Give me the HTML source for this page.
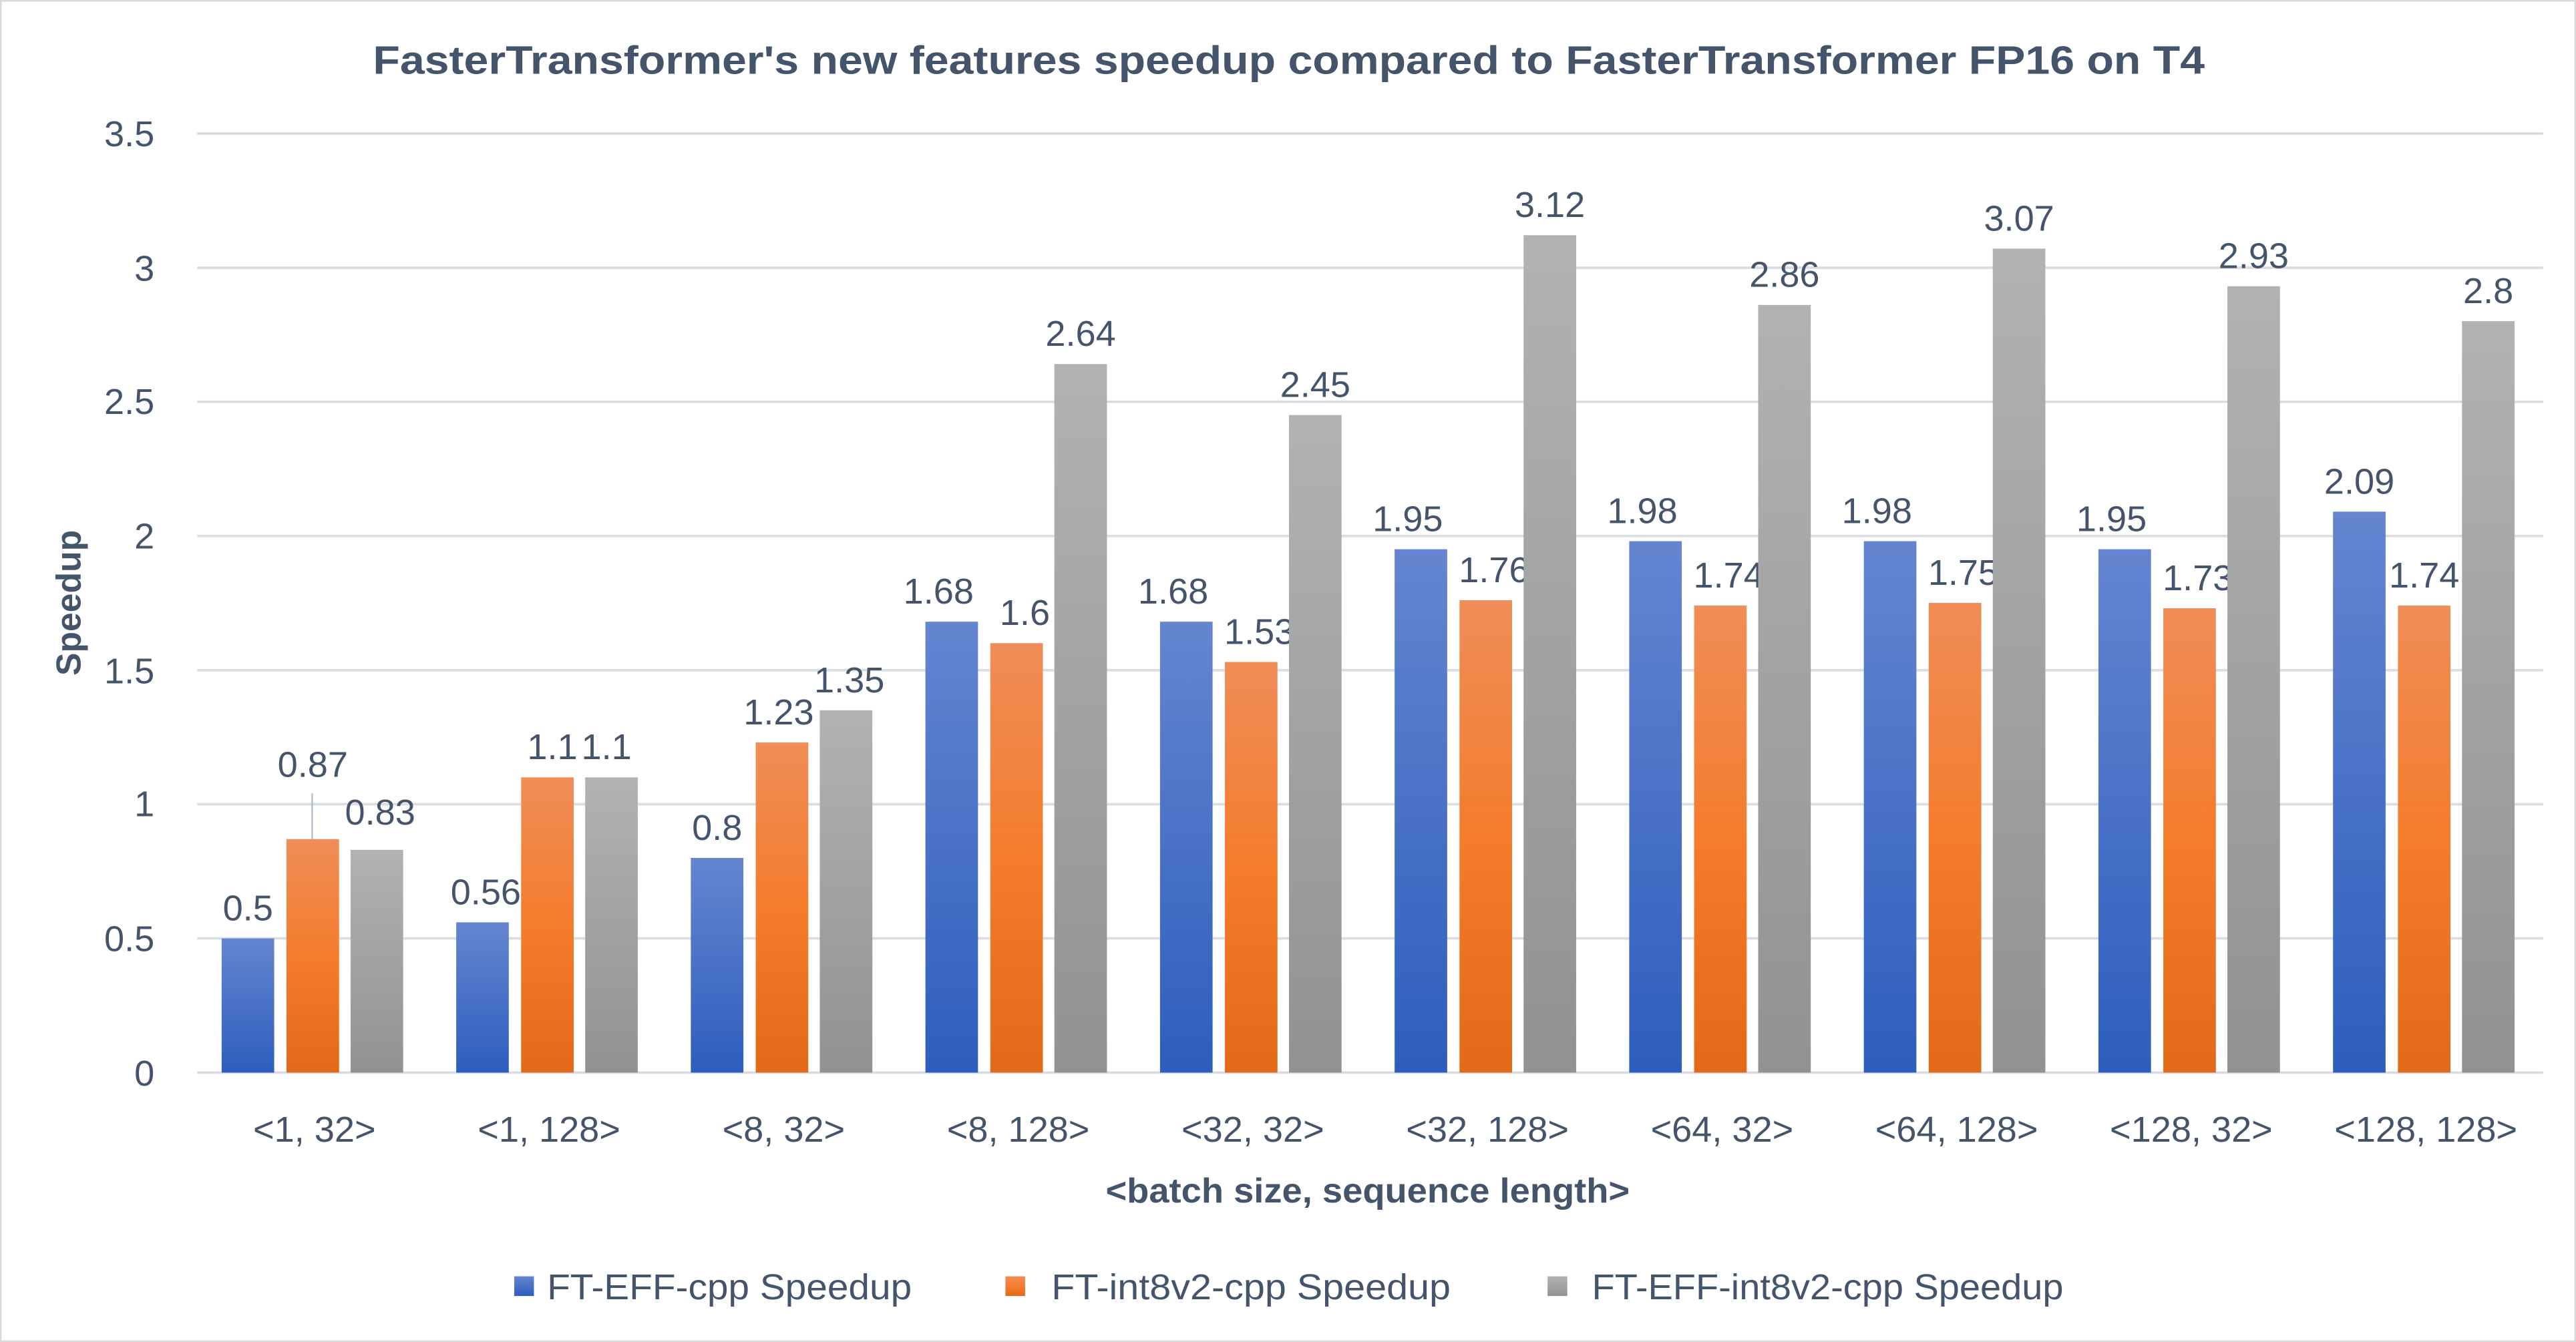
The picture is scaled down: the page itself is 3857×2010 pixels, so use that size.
<!DOCTYPE html>
<html><head><meta charset="utf-8"><style>
html,body{margin:0;padding:0;background:#fff}
svg{display:block}
text{font-family:"Liberation Sans",sans-serif;fill:#44546a}
</style></head><body>
<svg width="3857" height="2010" viewBox="0 0 1568 817" preserveAspectRatio="none" xmlns="http://www.w3.org/2000/svg">
<defs>
<linearGradient id="gb" x1="0" y1="0" x2="0" y2="1"><stop offset="0" stop-color="#6585d0"/><stop offset="1" stop-color="#2d5ebd"/></linearGradient>
<linearGradient id="go" x1="0" y1="0" x2="0" y2="1"><stop offset="0" stop-color="#f08d58"/><stop offset="0.5" stop-color="#f47c2c"/><stop offset="1" stop-color="#e26917"/></linearGradient>
<linearGradient id="gg" x1="0" y1="0" x2="0" y2="1"><stop offset="0" stop-color="#b2b2b2"/><stop offset="1" stop-color="#929292"/></linearGradient>
</defs>
<rect x="0.5" y="0.5" width="1567" height="816" fill="#fff" stroke="#d9d9d9"/>
<text x="227" y="45" font-size="24" font-weight="bold" textLength="1115" lengthAdjust="spacingAndGlyphs">FasterTransformer's new features speedup compared to FasterTransformer FP16 on T4</text>
<g stroke="#d9dde3" stroke-width="1.5">
<line x1="120" x2="1548" y1="81.3" y2="81.3"/><line x1="120" x2="1548" y1="163" y2="163"/>
<line x1="120" x2="1548" y1="244.6" y2="244.6"/><line x1="120" x2="1548" y1="326.3" y2="326.3"/>
<line x1="120" x2="1548" y1="408" y2="408"/><line x1="120" x2="1548" y1="489.6" y2="489.6"/>
<line x1="120" x2="1548" y1="571.3" y2="571.3"/><line x1="120" x2="1548" y1="653" y2="653"/>
</g>
<g font-size="22" text-anchor="end">
<text x="94" y="89">3.5</text><text x="94" y="171">3</text><text x="94" y="252">2.5</text><text x="94" y="334">2</text>
<text x="94" y="416">1.5</text><text x="94" y="497">1</text><text x="94" y="579">0.5</text><text x="94" y="661">0</text>
</g>
<text transform="translate(49,367) rotate(-90)" text-anchor="middle" font-size="21" font-weight="bold">Speedup</text>
<g id="bars"></g>
<line x1="190" y1="483" x2="190" y2="511" stroke="#b4bfcc" stroke-width="1"/>
<text x="673" y="732" font-size="21" font-weight="bold" textLength="319" lengthAdjust="spacingAndGlyphs">&lt;batch size, sequence length&gt;</text>
<rect x="313" y="777" width="12" height="12" fill="url(#gb)"/><text x="333" y="791" font-size="22" textLength="222" lengthAdjust="spacingAndGlyphs">FT-EFF-cpp Speedup</text>
<rect x="612" y="777" width="12" height="12" fill="url(#go)"/><text x="640" y="791" font-size="22" textLength="243" lengthAdjust="spacingAndGlyphs">FT-int8v2-cpp Speedup</text>
<rect x="942" y="777" width="12" height="12" fill="url(#gg)"/><text x="969" y="791" font-size="22" textLength="287" lengthAdjust="spacingAndGlyphs">FT-EFF-int8v2-cpp Speedup</text>
<script>
var cats=["<1, 32>","<1, 128>","<8, 32>","<8, 128>","<32, 32>","<32, 128>","<64, 32>","<64, 128>","<128, 32>","<128, 128>"];
var b=[0.5,0.56,0.8,1.68,1.68,1.95,1.98,1.98,1.95,2.09],o=[0.87,1.1,1.23,1.6,1.53,1.76,1.74,1.75,1.73,1.74],g=[0.83,1.1,1.35,2.64,2.45,3.12,2.86,3.07,2.93,2.8];
var ns="http://www.w3.org/2000/svg",G=document.getElementById("bars"),u=163.4;
function el(t,a,txt){var e=document.createElementNS(ns,t);for(var k in a)e.setAttribute(k,a[k]);if(txt!=null)e.textContent=txt;G.appendChild(e);return e;}
for(var i=0;i<10;i++){var c=120+142.8*(i+0.5);
 var s=[[b[i],"gb",-40.5],[o[i],"go",-1],[g[i],"gg",38]];
 for(var j=0;j<3;j++){var v=s[j][0],cx=c+s[j][2],h=v*u;
  el("rect",{x:cx-16,y:653-h,width:32,height:h,fill:"url(#"+s[j][1]+")"});
  var ly=653-h-11,lx=cx;
  if(i==0&&j==1)ly=473; if(i==0&&j==2){lx=cx+2;ly=502;}
  if(i==1&&j==0)lx=cx+2; if(i==1&&j==1)lx=cx+3; if(i==1&&j==2)lx=cx-3;
  if(i==2&&j==1)lx=cx-2; if(i==2&&j==2)lx=cx+2;
  if(i>=3&&j<2&&b[i]-o[i]<0.3){ if(j==0)lx=cx-8; else lx=cx+5;}
  el("text",{x:lx,y:ly,"text-anchor":"middle","font-size":"22"},String(v));
 }
 el("text",{x:c,y:695,"text-anchor":"middle","font-size":"22"},cats[i]);
}
</script>
</svg>
</body></html>
